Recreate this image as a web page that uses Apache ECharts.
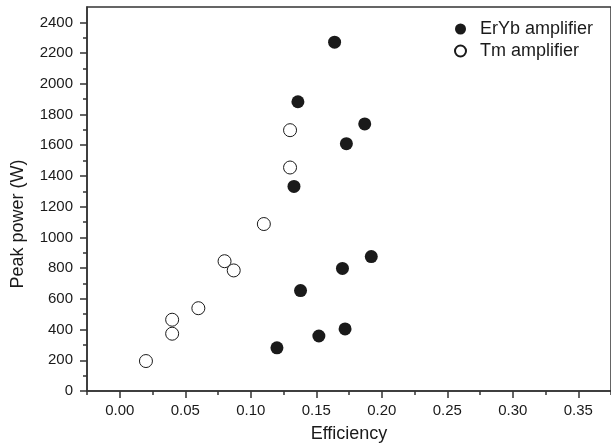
<!DOCTYPE html>
<html>
<head>
<meta charset="utf-8">
<script src="https://cdn.jsdelivr.net/npm/echarts@6/dist/echarts.min.js"></script>
<style>
  html, body { margin: 0; padding: 0; background: #fff; }
  #chart { width: 611px; height: 448px; }
</style>
</head>
<body>
<div id="chart"></div>
<script>
  // values: [efficiency, peak power (W)]
  const erybPoints = [
    [0.120, 281], [0.152, 358], [0.172, 404], [0.138, 654], [0.170, 798],
    [0.192, 875], [0.133, 1332], [0.173, 1610], [0.187, 1739], [0.136, 1883],
    [0.164, 2271]
  ];
  const tmPoints = [
    [0.020, 195], [0.040, 373], [0.040, 464], [0.060, 539], [0.087, 785],
    [0.080, 845], [0.110, 1087], [0.130, 1455], [0.130, 1698]
  ];
  const xMajorTicks = [0, 0.05, 0.10, 0.15, 0.20, 0.25, 0.30, 0.35];
  const xMinorTicks = [-0.025, 0.025, 0.075, 0.125, 0.175, 0.225, 0.275, 0.325, 0.375];
  const yMajorTicks = [0, 200, 400, 600, 800, 1000, 1200, 1400, 1600, 1800, 2000, 2200, 2400];
  const yMinorTicks = [100, 300, 500, 700, 900, 1100, 1300, 1500, 1700, 1900, 2100, 2300];

  const font = 'Liberation Sans, Arial, sans-serif';
  const ink = '#1a1a1a';
  const axisColor = '#333';

  const chart = echarts.init(document.getElementById('chart'));

  const lineStyle = { color: axisColor, width: 1.5 };

  chart.setOption({
    animation: false,
    backgroundColor: '#fff',
    grid: {
      left: 87, top: 7, right: -2, bottom: 54,
      show: true, borderColor: axisColor, borderWidth: 1.5
    },
    legend: {
      orient: 'vertical',
      left: 449, top: 15,
      itemWidth: 11, itemHeight: 11, itemGap: 4,
      textStyle: { fontFamily: font, fontSize: 18, color: ink, padding: [0, 0, 0, 9] },
      data: ['ErYb amplifier', 'Tm amplifier']
    },
    xAxis: [{
      type: 'value', min: -0.025, max: 0.375,
      name: 'Efficiency', nameLocation: 'middle', nameGap: 34,
      nameTextStyle: { fontFamily: font, fontSize: 18, color: ink },
      splitLine: { show: false },
      axisLine: { onZero: false, lineStyle: lineStyle },
      axisTick: { length: 7, lineStyle: lineStyle, customValues: xMajorTicks },
      axisLabel: {
        customValues: xMajorTicks, margin: 12,
        fontFamily: font, fontSize: 15, color: ink,
        formatter: v => v.toFixed(2)
      }
    }, {
      type: 'value', min: -0.025, max: 0.375, position: 'bottom',
      splitLine: { show: false },
      axisLine: { show: false, onZero: false },
      axisTick: { length: 4, lineStyle: lineStyle, customValues: xMinorTicks },
      axisLabel: { show: false }
    }],
    yAxis: [{
      type: 'value', min: 0, max: 2500, position: 'left',
      name: 'Peak power (W)', nameLocation: 'middle', nameGap: 60,
      nameTextStyle: { fontFamily: font, fontSize: 18, color: ink, padding: [0, 50, 0, 0] },
      splitLine: { show: false },
      axisLine: { onZero: false, lineStyle: lineStyle },
      axisTick: { length: 7, lineStyle: lineStyle, customValues: yMajorTicks },
      axisLabel: {
        customValues: yMajorTicks, margin: 14,
        fontFamily: font, fontSize: 15, color: ink,
        formatter: v => String(v)
      }
    }, {
      type: 'value', min: 0, max: 2500, position: 'left', offset: 0,
      splitLine: { show: false },
      axisLine: { show: false, onZero: false },
      axisTick: { length: 4, lineStyle: lineStyle, customValues: yMinorTicks },
      axisLabel: { show: false }
    }],
    series: [{
      name: 'ErYb amplifier',
      type: 'scatter',
      symbol: 'circle',
      symbolSize: 13,
      data: erybPoints,
      itemStyle: { color: ink, opacity: 1 }
    }, {
      name: 'Tm amplifier',
      type: 'scatter',
      symbol: 'circle',
      symbolSize: 13,
      data: tmPoints,
      itemStyle: { color: '#fff', borderColor: ink, borderWidth: 1, opacity: 1 }
    }]
  });
</script>
</body>
</html>
